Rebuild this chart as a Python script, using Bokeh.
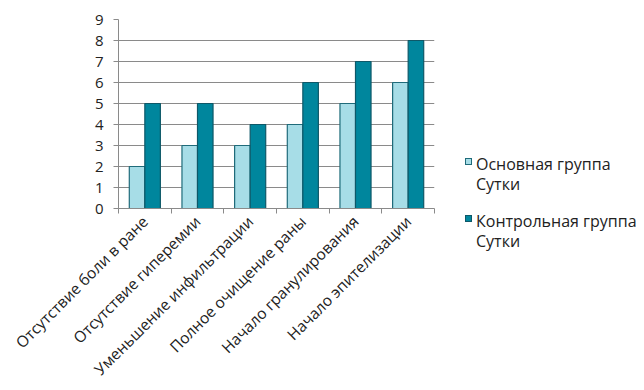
from bokeh.plotting import figure
from bokeh.models import Range1d, FixedTicker, Div
from bokeh.layouts import row
from bokeh.embed import file_html
from bokeh.resources import INLINE
import math

categories = ["Отсутствие боли в ране", "Отсутствие гиперемии", "Уменьшение инфильтрации",
              "Полное очищение раны", "Начало гранулирования", "Начало эпителизации"]
main_group = [2, 3, 3, 4, 5, 6]
control_group = [5, 5, 4, 6, 7, 8]
series_names = ["Основная группа\nСутки", "Контрольная группа\nСутки"]
y_ticks = [0, 1, 2, 3, 4, 5, 6, 7, 8, 9]

FONT = "Open Sans"
TXT = "#222222"
fills = ["#a7dde7", "#00869d"]
lines = ["#1f6b7a", "#0e5868"]
n = len(categories)
bw = 0.295

p = figure(width=436, height=390, output_backend="svg", toolbar_location=None,
           x_range=Range1d(0, n), y_range=Range1d(0, 9),
           min_border_left=118, min_border_right=2, min_border_top=19, min_border_bottom=182)
p.outline_line_color = None

xs1 = [i + 0.5 - bw / 2 for i in range(n)]
xs2 = [i + 0.5 + bw / 2 for i in range(n)]
p.vbar(x=xs1, top=main_group, width=bw, bottom=0,
       fill_color=fills[0], line_color=lines[0], line_width=1.2)
p.vbar(x=xs2, top=control_group, width=bw, bottom=0,
       fill_color=fills[1], line_color=lines[1], line_width=1.2)

grid_c = "#8a8a8a"
p.xgrid.visible = False
p.ygrid.ticker = FixedTicker(ticks=y_ticks)
p.ygrid.grid_line_color = grid_c
p.ygrid.level = "underlay"

ya = p.yaxis[0]
ya.ticker = FixedTicker(ticks=y_ticks)
ya.axis_line_color = grid_c
ya.major_tick_line_color = grid_c
ya.major_tick_out = 5
ya.major_tick_in = 0
ya.minor_tick_line_color = None
ya.major_label_text_font = FONT
ya.major_label_text_font_size = "15px"
ya.major_label_text_color = TXT
ya.major_label_standoff = 10

xa = p.xaxis[0]
xa.ticker = FixedTicker(ticks=[i + 0.5 for i in range(n)], minor_ticks=list(range(n + 1)))
xa.major_label_overrides = {i + 0.5: c for i, c in enumerate(categories)}
xa.major_label_orientation = math.pi / 4
xa.axis_line_color = grid_c
xa.major_tick_line_color = None
xa.major_tick_out = 0
xa.major_tick_in = 0
xa.minor_tick_line_color = grid_c
xa.minor_tick_out = 5
xa.minor_tick_in = 0
xa.major_label_text_font = FONT
xa.major_label_text_font_size = "15.5px"
xa.major_label_text_color = TXT
xa.major_label_standoff = 5

# legend panel as HTML
parts = []
for i, name in enumerate(series_names):
    top = 154 + 57 * i
    parts.append(
        f'<div style="position:absolute;left:29px;top:{top + 4}px;width:7px;height:7px;'
        f'background:{fills[i]};border:1px solid {lines[i]};"></div>'
        f'<div style="position:absolute;left:40px;top:{top}px;line-height:20px;white-space:nowrap;">'
        + "<br>".join(name.split("\n")) + '</div>')
html = (f'<div style="position:relative;width:208px;height:390px;font-family:\'{FONT}\';'
        f'font-size:16px;color:{TXT};">' + "".join(parts) + '</div>')
lg = Div(text=html, width=208, height=390, margin=0)

layout = row(p, lg)
open("out.html", "w").write(file_html(layout, INLINE))
